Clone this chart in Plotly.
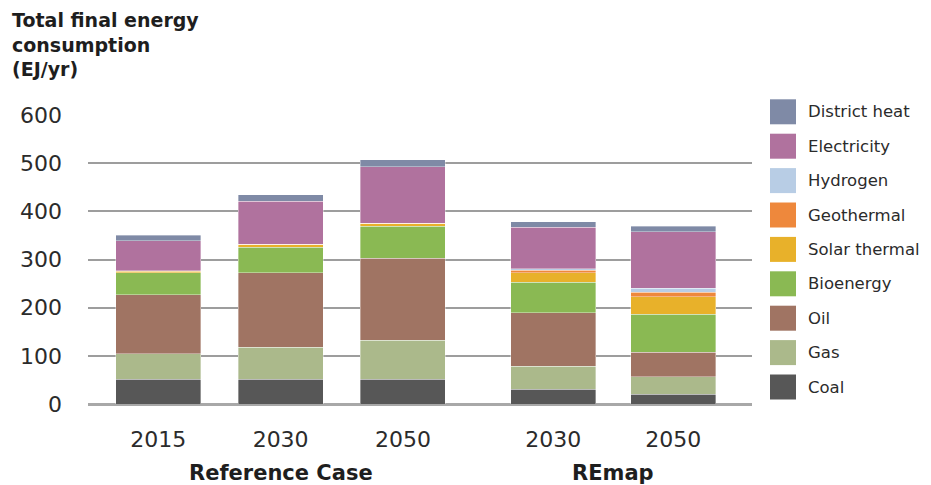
import plotly.graph_objects as go

# Scenario columns and their tick labels
years = ["2015", "2030", "2050", "2030", "2050"]
groups = ["Reference Case", "REmap"]

# Final energy consumption by carrier (EJ/yr), bottom to top of each stack
coal = [51, 51, 51, 31, 20]
gas = [53, 67, 81, 47, 37]
oil = [123, 155, 171, 112, 51]
bioenergy = [46, 53, 66, 63, 79]
solar_thermal = [3, 5, 6, 20, 36]
geothermal = [0.5, 0.5, 0.5, 5, 9]
hydrogen = [0, 0, 0, 3, 9]
electricity = [63, 90, 118, 86, 117]
district_heat = [11, 13, 14, 12, 11]

series = [
    ("Coal", coal, "#575757"),
    ("Gas", gas, "#abb98b"),
    ("Oil", oil, "#a07463"),
    ("Bioenergy", bioenergy, "#8ab953"),
    ("Solar thermal", solar_thermal, "#e8b12a"),
    ("Geothermal", geothermal, "#ee883c"),
    ("Hydrogen", hydrogen, "#b8cde5"),
    ("Electricity", electricity, "#b0729e"),
    ("District heat", district_heat, "#7f8aa6"),
]

# Horizontal slot of each column (gap between the two scenario groups)
positions = [0, 1, 2, 3.23, 4.21]
group_centers = [1, 3.72]

W, H = 931, 485
L, R, T, B = 88, 179, 115, 81
PW, PH = W - L - R, H - T - B


def px_x(px):
    return (px - L) / PW


def px_y(py):
    return (H - B - py) / PH


FONT = "DejaVu Sans"
TXT = "#2b2b2b"

fig = go.Figure()
for name, vals, color in series:
    fig.add_trace(go.Bar(
        x=positions, y=vals, name=name, width=0.695,
        marker=dict(color=color, line=dict(width=0.6, color="rgba(255,255,255,0.6)")),
        showlegend=False,
    ))

# Legend: large square swatches, top entry first
shapes = []
annotations = []
for i, (name, vals, color) in enumerate(reversed(series)):
    cy = 111.8 + i * 34.4
    shapes.append(dict(
        type="rect", xref="paper", yref="paper",
        x0=px_x(770), x1=px_x(796), y0=px_y(cy + 12.5), y1=px_y(cy - 12.5),
        fillcolor=color, line=dict(width=0),
    ))
    annotations.append(dict(
        xref="paper", yref="paper", x=px_x(806), y=px_y(cy),
        xanchor="left", yanchor="middle", text=name, showarrow=False,
        font=dict(family=FONT, size=16.5, color=TXT),
    ))

# Axis title block in the top-left corner
annotations.append(dict(
    xref="paper", yref="paper", x=px_x(10), y=px_y(7),
    xanchor="left", yanchor="top", align="left", showarrow=False,
    text="<b>Total final energy<br>consumption<br>(EJ/yr)</b>",
    font=dict(family=FONT, size=19, color="#1e1e1e"),
))

# Scenario group labels under the year ticks
for g, gx in zip(groups, group_centers):
    annotations.append(dict(
        xref="x", yref="paper", x=gx, y=px_y(473),
        xanchor="center", yanchor="middle", showarrow=False,
        text="<b>" + g + "</b>", font=dict(family=FONT, size=21, color="#1e1e1e"),
    ))

fig.update_layout(
    width=W, height=H,
    margin=dict(l=L, r=R, t=T, b=B, pad=0),
    barmode="stack",
    plot_bgcolor="white", paper_bgcolor="white",
    font=dict(family=FONT, color=TXT),
    shapes=shapes, annotations=annotations,
    showlegend=False,
    xaxis=dict(
        range=[-0.575, 4.854], tickvals=positions, ticktext=years,
        showgrid=False, zeroline=False, showline=False,
        ticks="", ticklabelstandoff=20,
        tickfont=dict(family=FONT, size=22, color=TXT),
    ),
    yaxis=dict(
        range=[0, 600.5], tickvals=[0, 100, 200, 300, 400, 500, 600],
        showgrid=True, gridcolor="#9d9d9d", gridwidth=1.5,
        zeroline=True, zerolinecolor="#a8a8a8", zerolinewidth=2.5,
        showline=False, ticks="", ticklabelstandoff=25,
        tickfont=dict(family=FONT, size=22, color=TXT),
    ),
)

fig.write_html("out.html")
